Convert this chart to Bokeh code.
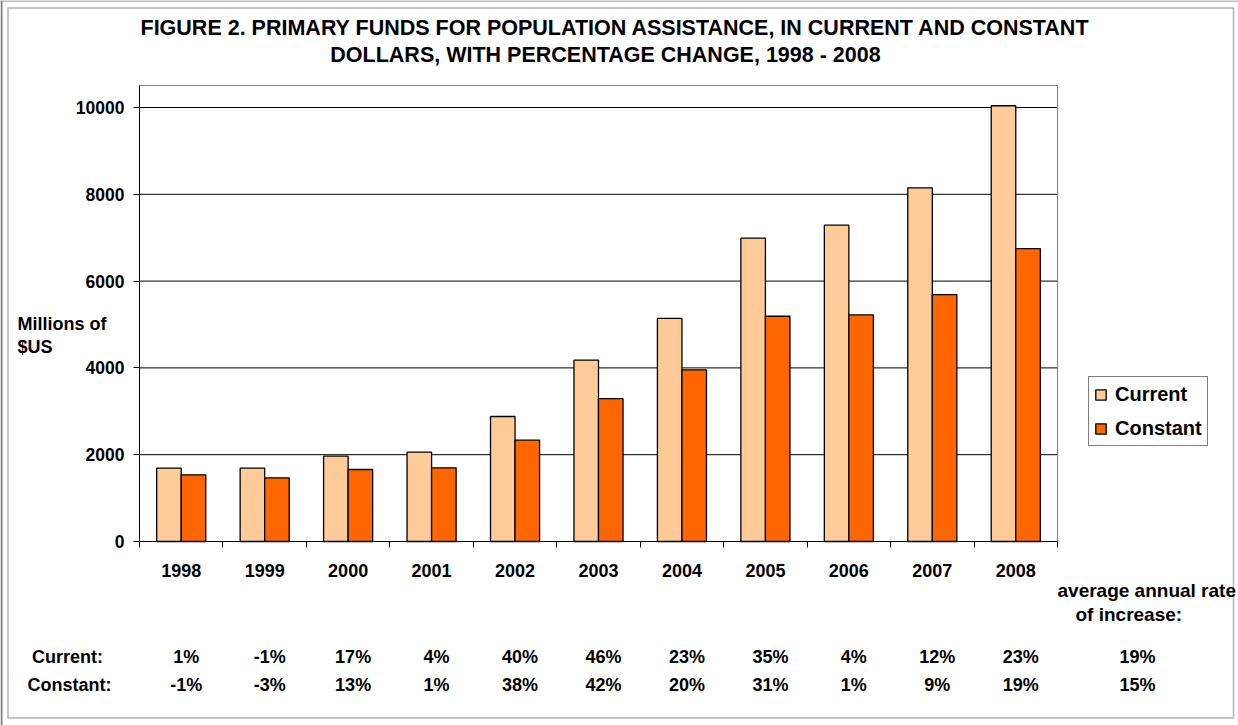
from bokeh.plotting import figure
from bokeh.models import FixedTicker, Label, LabelSet, ColumnDataSource, BoxAnnotation, Span
from bokeh.core.properties import value
from bokeh.embed import file_html
from bokeh.resources import INLINE

# ---- data ----
years = ["1998", "1999", "2000", "2001", "2002", "2003", "2004", "2005", "2006", "2007", "2008"]
current = [1690, 1690, 1965, 2058, 2880, 4180, 5140, 6990, 7290, 8150, 10040]
constant = [1537, 1468, 1659, 1698, 2334, 3290, 3956, 5190, 5220, 5690, 6750]
pct_current = ["1%", "-1%", "17%", "4%", "40%", "46%", "23%", "35%", "4%", "12%", "23%"]
pct_constant = ["-1%", "-3%", "13%", "1%", "38%", "42%", "20%", "31%", "1%", "9%", "19%"]
avg_current = "19%"
avg_constant = "15%"
y_ticks = [0, 2000, 4000, 6000, 8000, 10000]
title_lines = ["FIGURE 2. PRIMARY FUNDS FOR POPULATION ASSISTANCE, IN CURRENT AND CONSTANT",
               "DOLLARS, WITH PERCENTAGE CHANGE, 1998 - 2008"]
y_label_lines = ["Millions of", "$US"]
series_names = ["Current", "Constant"]
row_names = ["Current:", "Constant:"]
avg_lines = ["average annual rate", "of increase:"]

# ---- layout (pixels) ----
W, H = 1238, 725
PL, PR = 139, 1057          # plot area left / right
P0, P10K, PT = 541, 107, 85  # pixel rows of y=0, y=10000, plot top
FONT = "Liberation Sans"
C_CURRENT = "#FFCC99"
C_CONSTANT = "#FF6600"

n = len(years)
centers = [i + 0.5 for i in range(n)]
bw = 0.294
sx = (PR - PL) / n
sy = (P0 - P10K) / 10000.0
x_start = -PL / sx
x_end = n + (W - PR) / sx
y_start = -(H - P0) / sy
y_end = 10000 + P10K / sy
y_top = (P0 - PT) / sy

p = figure(width=W, height=H, x_range=(x_start, x_end), y_range=(y_start, y_end),
           output_backend="svg", toolbar_location=None,
           min_border_left=0, min_border_right=0, min_border_top=0, min_border_bottom=0)
p.background_fill_color = "white"
p.border_fill_color = "white"
p.outline_line_color = None
p.xgrid.visible = False
p.ygrid.visible = False

# grid lines and plot-area border
p.segment(x0=0, x1=n, y0=y_ticks[1:], y1=y_ticks[1:], line_color="black", line_width=1, level="underlay")
p.segment(x0=[0, n], x1=[n, n], y0=[y_top, 0], y1=[y_top, y_top], line_color="#808080", line_width=1,
          level="underlay")

src = ColumnDataSource(dict(xc=[c - bw / 2 for c in centers], xk=[c + bw / 2 for c in centers],
                            current=current, constant=constant))
p.vbar(x="xc", top="current", bottom=0, width=bw, source=src, fill_color=C_CURRENT,
       line_color="black", line_width=1.3, legend_label=series_names[0])
p.vbar(x="xk", top="constant", bottom=0, width=bw, source=src, fill_color=C_CONSTANT,
       line_color="black", line_width=1.3, legend_label=series_names[1])

# x axis: labels at centres, ticks at category boundaries
xa = p.xaxis[0]
xa.fixed_location = 0
xa.bounds = (0, n)
xa.ticker = FixedTicker(ticks=centers, minor_ticks=list(range(n + 1)))
xa.major_label_overrides = {c: y for c, y in zip(centers, years)}
xa.major_tick_out = 0
xa.major_tick_in = 0
xa.minor_tick_out = 6
xa.minor_tick_in = 0
xa.minor_tick_line_color = "black"
xa.axis_line_color = "black"
xa.major_label_text_font = FONT
xa.major_label_text_font_style = "bold"
xa.major_label_text_font_size = "18px"
xa.major_label_text_color = "black"
xa.major_label_standoff = 16

ya = p.yaxis[0]
ya.fixed_location = 0
ya.bounds = (0, y_top)
ya.ticker = FixedTicker(ticks=y_ticks, minor_ticks=[])
ya.major_tick_out = 6
ya.major_tick_in = 0
ya.major_tick_line_color = "black"
ya.minor_tick_out = 0
ya.minor_tick_in = 0
ya.axis_line_color = "black"
ya.major_label_text_font = FONT
ya.major_label_text_font_style = "bold"
ya.major_label_text_font_size = "17.5px"
ya.major_label_text_color = "black"
ya.major_label_standoff = 9

# legend
lg = p.legend[0]
lg.location = (1088, H - 446)
lg.margin = 0
lg.padding = 5
lg.spacing = 10
lg.label_height = 24
lg.glyph_width = 13
lg.glyph_height = 13
lg.label_standoff = 8
lg.border_line_color = "black"
lg.border_line_width = 1
lg.background_fill_color = "white"
lg.background_fill_alpha = 1
lg.label_text_font = FONT
lg.label_text_font_style = "bold"
lg.label_text_font_size = "20px"
lg.label_text_color = "black"


def lab(text, x, y, size="18px", align="left"):
    # x from left, y from top (pixels)
    p.add_layout(Label(x=x, y=H - y, x_units="screen", y_units="screen", text=text,
                       text_font=FONT, text_font_style="bold", text_font_size=size,
                       text_align=align, text_baseline="middle", text_color="black"))


lab(title_lines[0], 615, 27, "21.5px", "center")
lab(title_lines[1], 605, 54, "21.5px", "center")
lab(y_label_lines[0], 17, 323)
lab(y_label_lines[1], 17, 346)
lab(row_names[0], 67, 656, align="center")
lab(row_names[1], 69, 684, align="center")
lab(avg_lines[0], 1057, 590, "19px")
lab(avg_lines[1], 1075, 614, "19px")
lab(avg_current, 1137, 656, align="center")
lab(avg_constant, 1137, 684, align="center")

tsrc = ColumnDataSource(dict(x=centers, cur=pct_current, con=pct_constant))
for field, yy in (("cur", 656), ("con", 684)):
    p.add_layout(LabelSet(x="x", y=H - yy, y_units="screen", text=field, source=tsrc,
                          x_offset=5, text_font=value(FONT), text_font_style="bold",
                          text_font_size="18px", text_align="center", text_baseline="middle",
                          text_color="black"))

# outer chart border (cell-style frame)
p.add_layout(Span(location=1, dimension="height", location_units="screen",
                  line_color="#808080", line_width=2))
p.add_layout(Span(location=H - 0.5, dimension="width", location_units="screen",
                  line_color="#808080", line_width=1))
p.add_layout(BoxAnnotation(left=7.5, right=1233, top=H - 7.5, bottom=H - 717.5,
                           left_units="screen", right_units="screen",
                           top_units="screen", bottom_units="screen",
                           fill_alpha=0, line_color="black", line_width=1.5, level="overlay"))

open("out.html", "w").write(file_html(p, INLINE))
